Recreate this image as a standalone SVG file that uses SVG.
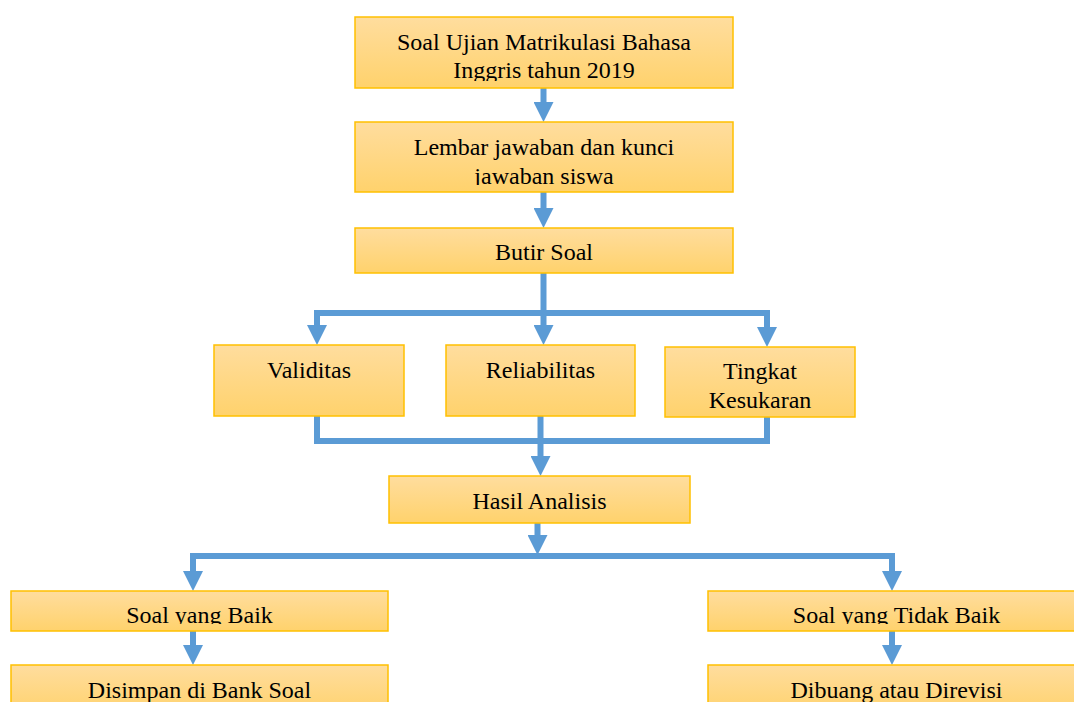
<svg xmlns="http://www.w3.org/2000/svg" width="1074" height="702" viewBox="0 0 1074 702">
<defs>
<linearGradient id="gold" x1="0" y1="0" x2="0" y2="1">
<stop offset="0" stop-color="#FFDD9E"/>
<stop offset="1" stop-color="#FFD26C"/>
</linearGradient>
<marker id="ah" markerUnits="userSpaceOnUse" viewBox="0 -10 20 20" markerWidth="20" markerHeight="20" refX="0" refY="0" orient="auto">
<path d="M0,-10 L20,0 L0,10 Z" fill="#5B9BD5"/>
</marker>
<clipPath id="c1"><rect x="355" y="17" width="378" height="64"/></clipPath>
<clipPath id="c2"><rect x="355" y="122" width="378" height="63"/></clipPath>
<clipPath id="c3"><rect x="11" y="591" width="377" height="33"/></clipPath>
<clipPath id="c4"><rect x="708" y="591" width="377" height="33"/></clipPath>
</defs>
<style>
.box{fill:url(#gold);stroke:#FFC000;stroke-width:1.5}
.t{font-family:"Liberation Serif","Times New Roman",serif;font-size:24px;fill:#000;text-anchor:middle}
.ln{fill:none;stroke:#5B9BD5;stroke-width:6;stroke-linejoin:miter;stroke-linecap:butt}
.ar{fill:none;stroke:#5B9BD5;stroke-width:6;marker-end:url(#ah)}
</style>
<rect width="1074" height="702" fill="#fff"/>
<g id="connectors">
<line class="ar" x1="543.5" y1="88" x2="543.5" y2="102"/>
<line class="ar" x1="543.5" y1="192" x2="543.5" y2="208"/>
<line class="ar" x1="543.5" y1="273" x2="543.5" y2="325"/>
<polyline class="ln" points="767,313 317,313"/>
<polyline class="ar" points="317,310 317,325"/>
<polyline class="ar" points="767,310 767,327"/>
<polyline class="ln" points="317,416 317,441 767,441 767,417"/>
<line class="ln" x1="540.5" y1="416" x2="540.5" y2="441"/>
<line class="ar" x1="540.5" y1="441" x2="540.5" y2="456"/>
<line class="ar" x1="537.5" y1="523" x2="537.5" y2="535"/>
<polyline class="ln" points="193,571 193,556 892,556 892,571"/>
<line class="ar" x1="193" y1="570" x2="193" y2="571"/>
<line class="ar" x1="892" y1="570" x2="892" y2="571"/>
<line class="ar" x1="193" y1="631" x2="193" y2="645"/>
<line class="ar" x1="892" y1="631" x2="892" y2="645"/>
</g>
<g id="n1"><rect class="box" x="355" y="17" width="378" height="71"/>
<g clip-path="url(#c1)"><text class="t" x="544" y="50">Soal Ujian Matrikulasi Bahasa</text><text class="t" x="544" y="78">Inggris tahun 2019</text></g></g>
<g id="n2"><rect class="box" x="355" y="122" width="378" height="70"/>
<g clip-path="url(#c2)"><text class="t" x="544" y="155">Lembar jawaban dan kunci</text><text class="t" x="544" y="184">jawaban siswa</text></g></g>
<g id="n3"><rect class="box" x="355" y="228" width="378" height="45"/><text class="t" x="544" y="260">Butir Soal</text></g>
<g id="n4"><rect class="box" x="214" y="345" width="190" height="71"/><text class="t" x="309" y="378">Validitas</text></g>
<g id="n5"><rect class="box" x="446" y="345" width="189" height="71"/><text class="t" x="540.5" y="378">Reliabilitas</text></g>
<g id="n6"><rect class="box" x="665" y="347" width="190" height="70"/><text class="t" x="760" y="379">Tingkat</text><text class="t" x="760" y="408">Kesukaran</text></g>
<g id="n7"><rect class="box" x="389" y="476" width="301" height="47"/><text class="t" x="539.5" y="509">Hasil Analisis</text></g>
<g id="n8"><rect class="box" x="11" y="591" width="377" height="40"/><g clip-path="url(#c3)"><text class="t" x="199.5" y="623">Soal yang Baik</text></g></g>
<g id="n9"><rect class="box" x="708" y="591" width="377" height="40"/><g clip-path="url(#c4)"><text class="t" x="896.5" y="623">Soal yang Tidak Baik</text></g></g>
<g id="n10"><rect class="box" x="11" y="665" width="377" height="50"/><text class="t" x="199.5" y="698">Disimpan di Bank Soal</text></g>
<g id="n11"><rect class="box" x="708" y="665" width="377" height="50"/><text class="t" x="896.5" y="698">Dibuang atau Direvisi</text></g>
</svg>
